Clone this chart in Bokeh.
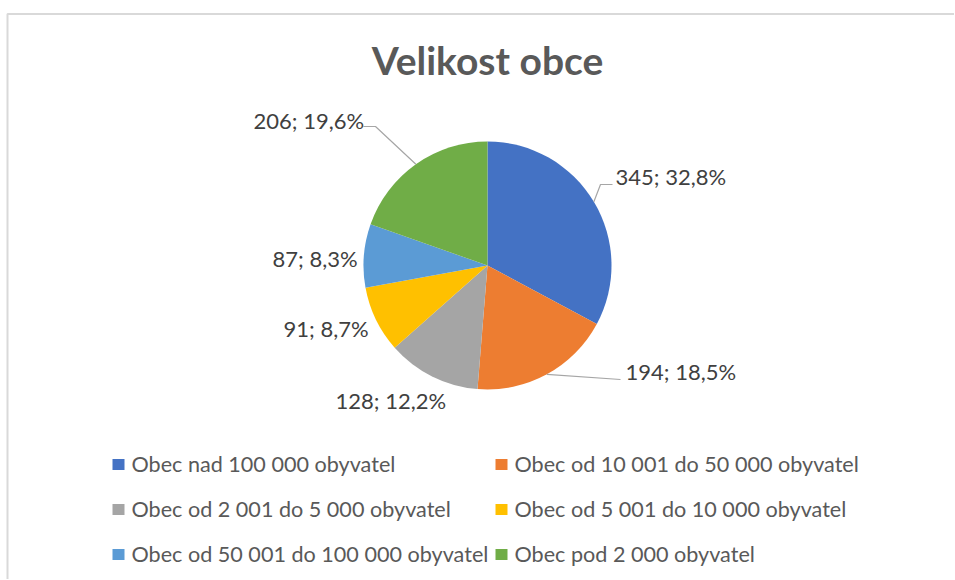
import numpy as np
from bokeh.plotting import figure
from bokeh.models import Range1d, ColumnDataSource
from bokeh.core.properties import value
from bokeh.embed import file_html
from bokeh.resources import INLINE

# ---------------- data ----------------
title_text = "Velikost obce"
categories = [
    "Obec nad 100 000 obyvatel",
    "Obec od 10 001 do 50 000 obyvatel",
    "Obec od 2 001 do 5 000 obyvatel",
    "Obec od 5 001 do 10 000 obyvatel",
    "Obec od 50 001 do 100 000 obyvatel",
    "Obec pod 2 000 obyvatel",
]
counts = [345, 194, 128, 91, 87, 206]
colors = ["#4472C4", "#ED7D31", "#A5A5A5", "#FFC000", "#5B9BD5", "#70AD47"]

# ---------------- layout ----------------
W, H = 954, 579
FONT = "Lato"
TXT_SHIFT = 7      # baseline correction for ~22px text
TITLE_SHIFT = 14   # baseline correction for 39px text


def X(sx):
    return sx


def Y(sy):
    return H - sy


CX, CY, R = X(487), Y(265), 124

# label text anchors (screen px: left x, baseline y)
label_pos = [(615, 183), (625, 378), (335, 407), (283, 335), (272, 265), (253, 127)]
# leader elbow/end points (screen px), None = no leader
leader_pts = [[(600, 184), (612, 184)], [(620, 379)], None, None, None,
              [(375, 126), (363, 126)]]

# legend grid (screen px)
leg_cols = [112, 495]
leg_text_dx = 19
leg_rows = [470, 515, 560]

total = float(sum(counts))
frac = np.array(counts) / total
cum = np.concatenate([[0.0], np.cumsum(frac)])
start = np.pi / 2 - cum[:-1] * 2 * np.pi
end = np.pi / 2 - cum[1:] * 2 * np.pi
mid = (start + end) / 2

labels = [f"{c}; {100 * f:.1f}%".replace(".", ",") for c, f in zip(counts, frac)]

p = figure(width=W, height=H, output_backend="svg", toolbar_location=None,
           x_range=Range1d(0, W), y_range=Range1d(0, H), min_border=0)
p.axis.visible = False
p.grid.visible = False
p.outline_line_color = None
p.background_fill_color = "white"

# chart border
p.line([X(7), X(7), W + 5], [-5, Y(13.5), Y(13.5)], line_color="#d9d9d9", line_width=2)

# pie
src = ColumnDataSource(dict(start=start, end=end, color=colors, cat=categories))
p.wedge(x=CX, y=CY, radius=R, start_angle="start", end_angle="end", direction="clock",
        fill_color="color", line_color=None, source=src)

# leaders
for i, pts in enumerate(leader_pts):
    if pts is None:
        continue
    xs = [CX + R * np.cos(mid[i])] + [X(a) for a, b in pts]
    ys = [CY + R * np.sin(mid[i])] + [Y(b) for a, b in pts]
    p.line(xs, ys, line_color="#a6a6a6", line_width=1.2)

# data labels
p.text(x=[X(a) for a, b in label_pos], y=[Y(b - TXT_SHIFT) for a, b in label_pos],
       text=labels, text_font=value(FONT), text_font_size="22px", text_color="#404040",
       text_align="left", text_baseline="alphabetic")

# title
p.text(x=[X(487)], y=[Y(73 - TITLE_SHIFT)], text=[title_text], text_font=value(FONT),
       text_font_size="39px", text_font_style="bold", text_color="#595959",
       text_align="center", text_baseline="alphabetic")

# legend
lx, ly, tx, ty = [], [], [], []
for i in range(len(categories)):
    col, row = i % 2, i // 2
    lx.append(X(leg_cols[col]) + 6)
    ly.append(Y(leg_rows[row]) + 6)
    tx.append(X(leg_cols[col] + leg_text_dx))
    ty.append(Y(leg_rows[row] - TXT_SHIFT))
p.rect(x=lx, y=ly, width=12, height=11, fill_color=colors, line_color=None)
p.text(x=tx, y=ty, text=categories,
       text_font=value(FONT), text_font_size="21.6px", text_color="#595959",
       text_align="left", text_baseline="alphabetic")

open("out.html", "w").write(file_html(p, INLINE))
